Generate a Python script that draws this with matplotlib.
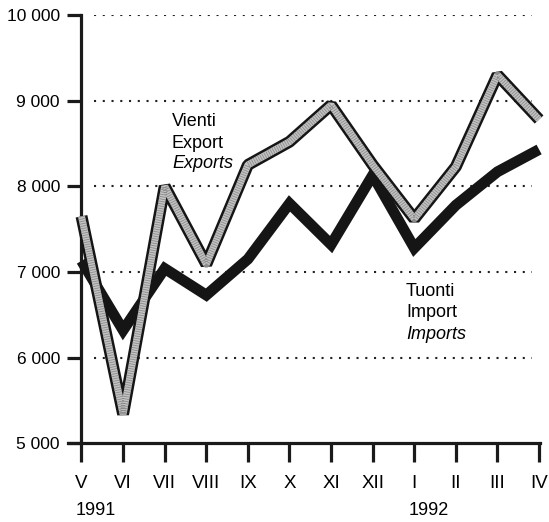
import matplotlib
matplotlib.use('Agg')
import matplotlib.pyplot as plt

# Monthly values, May 1991 - April 1992.
months = ['V', 'VI', 'VII', 'VIII', 'IX', 'X', 'XI', 'XII', 'I', 'II', 'III', 'IV']
years = ['1991', '1992']
exports = [7650, 5340, 8000, 7090, 8250, 8520, 8950, 8250, 7620, 8230, 9300, 8780]
imports = [7130, 6320, 7040, 6730, 7150, 7800, 7320, 8130, 7280, 7780, 8170, 8430]
y_ticks = [5000, 6000, 7000, 8000, 9000, 10000]
y_labels = ['5 000', '6 000', '7 000', '8 000', '9 000', '10 000']

plt.rcParams['font.family'] = ['Liberation Sans', 'DejaVu Sans']

figure = plt.figure(figsize=(5.49, 5.22), dpi=100)
axes = figure.add_axes([68 / 549, 78.7 / 522, 477 / 549, 428.3 / 522])

x = list(range(len(months)))

# Import line: plain thick black.
axes.plot(x, imports, color='#151515', linewidth=7.8, solid_joinstyle='miter',
          solid_capstyle='butt', zorder=3, clip_on=False)

# Export line: black outline with a light patterned core.
axes.plot(x, exports, color='#151515', linewidth=8.6, solid_joinstyle='bevel',
          solid_capstyle='butt', zorder=4, clip_on=False)
axes.plot(x, exports, color='#c4c4c4', linewidth=5.0, solid_joinstyle='bevel',
          solid_capstyle='butt', zorder=5, clip_on=False)
axes.plot(x, exports, color='#8a8a8a', linewidth=5.0, linestyle=(0, (0.12, 0.22)),
          dash_capstyle='butt', zorder=6, clip_on=False)

# Dotted grid.
axes.hlines(y_ticks[1:], 0.29, 10.82, colors='#222222', linewidth=1.5,
            linestyles=(0, (1, 3.2)), zorder=1)

axes.set_xlim(-0.3245, 11.142)
axes.set_ylim(5000, 10000)

# Spines.
axes.spines[['right', 'top']].set_visible(False)
axes.spines['left'].set_position(('data', 0))
axes.spines['left'].set_bounds(5000, 10000)
axes.spines['bottom'].set_bounds(-0.3245, 11.03)
for side in ['left', 'bottom']:
    axes.spines[side].set_linewidth(2.3)
    axes.spines[side].set_color('#1a1a1a')

# Ticks.
axes.set_yticks(y_ticks)
axes.set_yticklabels(y_labels)
axes.set_xticks(x)
axes.set_xticklabels(months)
axes.tick_params(axis='y', direction='out', length=10, width=2.3, pad=5.5,
                 labelsize=12.5, color='#1a1a1a')
axes.tick_params(axis='x', direction='out', length=14, width=2.3, pad=9,
                 labelsize=13.5, color='#1a1a1a')

# Year labels under the month labels.
axes.text(-0.13, -0.158, years[0], transform=axes.get_xaxis_transform(),
          ha='left', va='center', fontsize=13, clip_on=False)
axes.text(7.87, -0.158, years[1], transform=axes.get_xaxis_transform(),
          ha='left', va='center', fontsize=13, clip_on=False)

# Series labels.
for text, y, style in [('Vienti', 8699, 'normal'), ('Export', 8451, 'normal'), ('Exports', 8218, 'italic')]:
    axes.text(2.175, y, text, fontsize=13, style=style, va='baseline', ha='left')
for text, y, style in [('Tuonti', 6719, 'normal'), ('Import', 6471, 'normal'), ('Imports', 6215, 'italic')]:
    axes.text(7.80, y, text, fontsize=13, style=style, va='baseline', ha='left')

figure.savefig('out.png', dpi=100, facecolor='white')
